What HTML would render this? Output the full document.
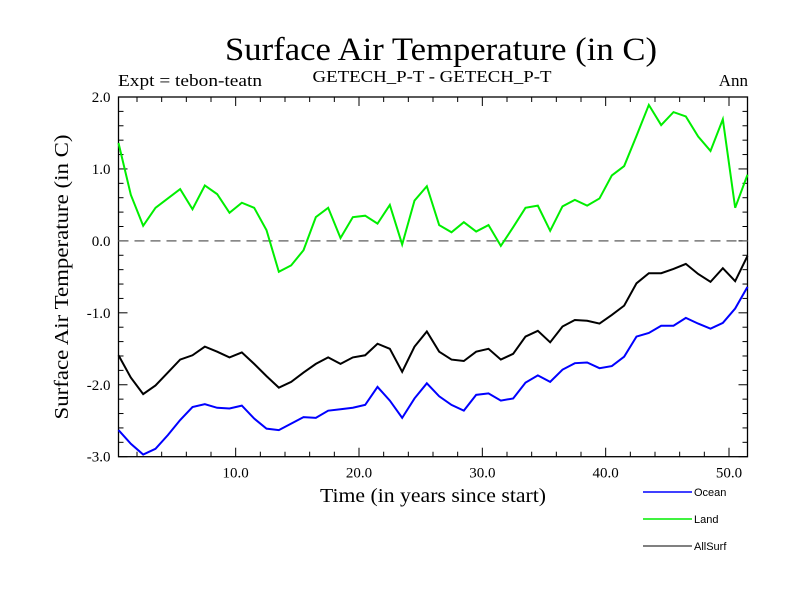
<!DOCTYPE html>
<html><head><meta charset="utf-8"><style>
html,body{margin:0;padding:0;background:#fff;}
svg{display:block;}
</style></head><body>
<svg id="chart" width="800" height="600" xmlns="http://www.w3.org/2000/svg" font-family="'Liberation Serif', serif">
<text x="441" y="60" font-size="33" text-anchor="middle" textLength="432" lengthAdjust="spacingAndGlyphs">Surface Air Temperature (in C)</text>
<text x="118" y="86" font-size="17" textLength="144" lengthAdjust="spacingAndGlyphs">Expt = tebon-teatn</text>
<text x="432" y="82" font-size="17" text-anchor="middle" textLength="239" lengthAdjust="spacingAndGlyphs">GETECH_P-T - GETECH_P-T</text>
<text x="748" y="86" font-size="17" text-anchor="end">Ann</text>
<text transform="translate(68,277) rotate(-90)" font-size="20" text-anchor="middle" textLength="285" lengthAdjust="spacingAndGlyphs">Surface Air Temperature (in C)</text>
<text x="433" y="502" font-size="20" text-anchor="middle" textLength="226" lengthAdjust="spacingAndGlyphs">Time (in years since start)</text>
<g id="axes"></g>
<g id="series"></g>
<g id="legend" font-family="'Liberation Sans', sans-serif" font-size="11"></g>
</svg>
<script>
const years = [];
for (let i = 0; i < 52; i++) years.push(i + 0.5);
const land = [1.36,0.64,0.21,0.46,0.59,0.72,0.44,0.77,0.65,0.39,0.53,0.46,0.15,-0.43,-0.34,-0.13,0.33,0.46,0.04,0.33,0.35,0.24,0.50,-0.05,0.56,0.76,0.22,0.12,0.26,0.13,0.22,-0.07,0.19,0.46,0.49,0.14,0.48,0.57,0.49,0.59,0.91,1.04,1.46,1.89,1.61,1.79,1.73,1.45,1.25,1.69,0.46,0.92];
const allsurf = [-1.59,-1.90,-2.13,-2.01,-1.83,-1.65,-1.59,-1.47,-1.54,-1.62,-1.55,-1.71,-1.88,-2.04,-1.96,-1.83,-1.71,-1.62,-1.71,-1.62,-1.59,-1.43,-1.50,-1.82,-1.47,-1.26,-1.54,-1.65,-1.67,-1.54,-1.50,-1.65,-1.57,-1.33,-1.25,-1.41,-1.19,-1.10,-1.11,-1.15,-1.03,-0.90,-0.59,-0.45,-0.45,-0.39,-0.32,-0.46,-0.57,-0.38,-0.56,-0.21];
const ocean = [-2.63,-2.82,-2.97,-2.89,-2.70,-2.49,-2.31,-2.27,-2.32,-2.33,-2.29,-2.47,-2.61,-2.63,-2.54,-2.45,-2.46,-2.36,-2.34,-2.32,-2.28,-2.03,-2.22,-2.46,-2.19,-1.98,-2.16,-2.28,-2.36,-2.14,-2.12,-2.22,-2.19,-1.97,-1.87,-1.96,-1.79,-1.70,-1.69,-1.77,-1.74,-1.61,-1.33,-1.28,-1.18,-1.18,-1.07,-1.15,-1.22,-1.14,-0.94,-0.64];
const xTickLabels = ["10.0","20.0","30.0","40.0","50.0"];
const xTickValues = [10,20,30,40,50];
const yTickLabels = ["2.0","1.0","0.0","-1.0","-2.0","-3.0"];
const yTickValues = [2,1,0,-1,-2,-3];

const L=118.5,R=747.5,T=97,B=456.7;
const xMin=0.5,xMax=51.5,yMin=-3,yMax=2;
const sx=v=>L+(v-xMin)/(xMax-xMin)*(R-L);
const sy=v=>B-(v-yMin)/(yMax-yMin)*(B-T);
const NS="http://www.w3.org/2000/svg";
function mk(tag,parent,attrs){const e=document.createElementNS(NS,tag);for(const k in attrs)e.setAttribute(k,attrs[k]);parent.appendChild(e);return e;}
const axes=document.getElementById('axes');
const frame=mk('rect',axes,{x:L,y:T,width:R-L,height:B-T,fill:'none',stroke:'#000','stroke-width':1.3});


// minor x ticks
for(let v=2;v<=50;v+=2){
  const maj=v%10===0, len=maj?9:5, x=sx(v);
  const t1=mk('line',axes,{x1:x,x2:x,y1:B,y2:B-len,stroke:'#000','stroke-width':1});
  
  
  const t2=mk('line',axes,{x1:x,x2:x,y1:T,y2:T+len,stroke:'#000','stroke-width':1});
  
  
}
for(let k=-15;k<=10;k++){
  const v=k/5, maj=k%5===0, len=maj?9:5, y=sy(v);
  const t1=mk('line',axes,{x1:L,x2:L+len,y1:y,y2:y,stroke:'#000','stroke-width':1});
  
  
  const t2=mk('line',axes,{x1:R,x2:R-len,y1:y,y2:y,stroke:'#000','stroke-width':1});
  
  
}
xTickLabels.forEach((s,i)=>{
  const t=mk('text',axes,{x:sx(xTickValues[i]),y:B+21,'font-size':15,'text-anchor':'middle'});
  t.textContent=s;
  
  
});
yTickLabels.forEach((s,i)=>{
  const t=mk('text',axes,{x:L-8,y:sy(yTickValues[i])+5,'font-size':15,'text-anchor':'end'});
  t.textContent=s;
  
  
});
const zl=mk('line',axes,{x1:L,x2:R,y1:sy(0),y2:sy(0),stroke:'#777','stroke-width':1.5,'stroke-dasharray':'10,6'});


const ser=document.getElementById('series');
function line(vals,color,name,w){
  const p=mk('polyline',ser,{points:vals.map((v,i)=>sx(years[i])+','+sy(v)).join(' '),fill:'none',stroke:color,'stroke-width':w,'stroke-linejoin':'miter'});
  
  
}
line(land,'#00ee00','land-line',2);
line(allsurf,'#000','allsurf-line',2);
line(ocean,'#0000ff','ocean-line',2);
const lg=document.getElementById('legend');
[['Ocean','#0000ff',492],['Land','#00ee00',519],['AllSurf','#000',546]].forEach(([n,c,y])=>{
  const l=mk('line',lg,{x1:643,x2:692,y1:y,y2:y,stroke:c,'stroke-width':n==='AllSurf'?1:1.5});
  
  
  const t=mk('text',lg,{x:694,y:y+4});
  t.textContent=n;
  
  
});
</script>
</body></html>
